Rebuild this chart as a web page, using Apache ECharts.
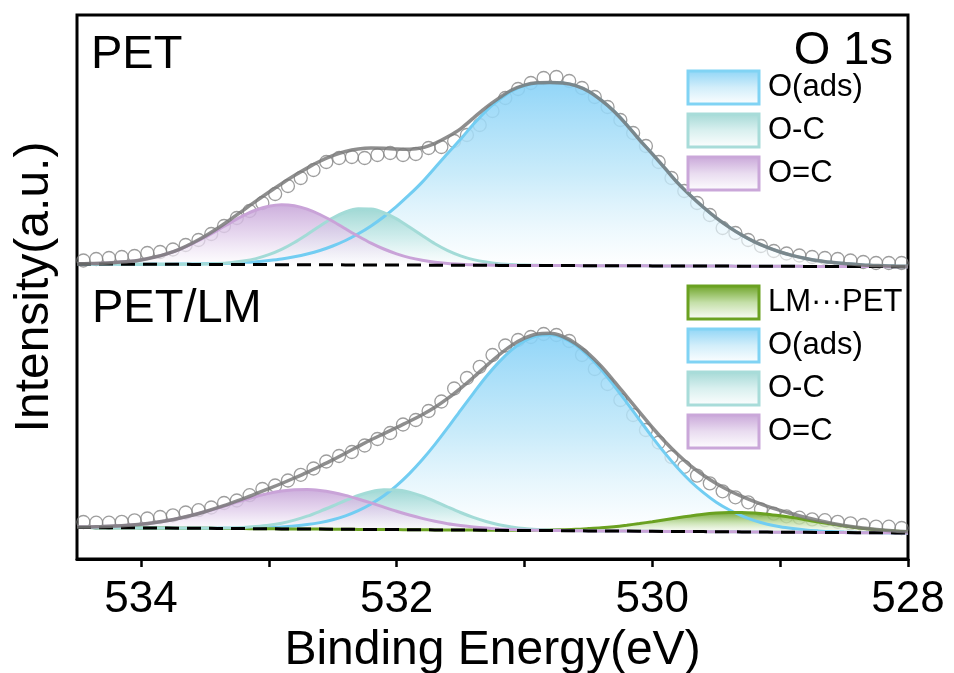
<!DOCTYPE html>
<html>
<head>
<meta charset="utf-8">
<title>O 1s XPS spectra – PET and PET/LM</title>
<script src="https://cdn.jsdelivr.net/npm/echarts@6/dist/echarts.min.js"></script>
<style>
  html, body { margin: 0; padding: 0; background: #ffffff; }
  #chart { width: 954px; height: 673px; }
</style>
</head>
<body>
<div id="chart"></div>
<script>
// ---- Binding-energy grids (eV) ----
const energyFit = [534.5, 534.4, 534.3, 534.2, 534.1, 534.0, 533.9, 533.8, 533.7, 533.6,
  533.5, 533.4, 533.3, 533.2, 533.1, 533.0, 532.9, 532.8, 532.7, 532.6,
  532.5, 532.4, 532.3, 532.2, 532.1, 532.0, 531.9, 531.8, 531.7, 531.6,
  531.5, 531.4, 531.3, 531.2, 531.1, 531.0, 530.9, 530.8, 530.7, 530.6,
  530.5, 530.4, 530.3, 530.2, 530.1, 530.0, 529.9, 529.8, 529.7, 529.6,
  529.5, 529.4, 529.3, 529.2, 529.1, 529.0, 528.9, 528.8, 528.7, 528.6,
  528.5, 528.4, 528.3, 528.2, 528.1, 528.0];

const energyMeasured = [534.45, 534.35, 534.25, 534.15, 534.05, 533.95, 533.85, 533.75, 533.65, 533.55,
  533.45, 533.35, 533.25, 533.15, 533.05, 532.95, 532.85, 532.75, 532.65, 532.55,
  532.45, 532.35, 532.25, 532.15, 532.05, 531.95, 531.85, 531.75, 531.65, 531.55,
  531.45, 531.35, 531.25, 531.15, 531.05, 530.95, 530.85, 530.75, 530.65, 530.55,
  530.45, 530.35, 530.25, 530.15, 530.05, 529.95, 529.85, 529.75, 529.65, 529.55,
  529.45, 529.35, 529.25, 529.15, 529.05, 528.95, 528.85, 528.75, 528.65, 528.55,
  528.45, 528.35, 528.25, 528.15, 528.05];

// ---- PET (upper, offset spectrum) ----
const petBackground = [297.0, 297.0, 296.9, 296.9, 296.8, 296.8, 296.8, 296.7, 296.7, 296.6,
  296.6, 296.5, 296.5, 296.5, 296.4, 296.4, 296.3, 296.3, 296.3, 296.2,
  296.2, 296.1, 296.1, 296.0, 296.0, 296.0, 295.9, 295.9, 295.8, 295.8,
  295.8, 295.7, 295.7, 295.6, 295.6, 295.5, 295.5, 295.5, 295.4, 295.4,
  295.3, 295.3, 295.3, 295.2, 295.2, 295.1, 295.1, 295.0, 295.0, 295.0,
  294.9, 294.9, 294.8, 294.8, 294.8, 294.7, 294.7, 294.6, 294.6, 294.6,
  294.5, 294.5, 294.4, 294.4, 294.3, 294.3];

// peak heights above the background
const petOads = [0, 0, 0, 0, 0, 0, 0.1, 0.1, 0.2, 0.4,
  0.6, 0.9, 1.3, 2.0, 2.9, 4.1, 5.7, 7.9, 10.7, 14.3,
  18.8, 24.4, 31.1, 39.1, 48.3, 58.7, 70.4, 83.0, 97.5, 112,
  126, 141, 154.5, 165.5, 174.5, 180, 182.5, 183, 182.5, 180,
  174.5, 165.5, 154.5, 141, 126, 112, 97.5, 82.9, 70.3, 58.7,
  48.2, 39.0, 31.1, 24.3, 18.8, 14.3, 10.7, 7.9, 5.7, 4.1,
  2.9, 2.0, 1.3, 0.9, 0.6, 0.4];

const petOC = [0, 0, 0, 0, 0, 0, 0, 0, 0, 0.2,
  0.4, 0.9, 1.8, 3.4, 6.0, 9.9, 15.3, 22.2, 30.3, 38.9,
  46.8, 52.9, 56.1, 55.9, 52.4, 46.1, 38.0, 29.5, 21.4, 14.6,
  9.4, 5.7, 3.2, 1.7, 0.9, 0.4, 0.2, 0, 0, 0,
  0, 0, 0, 0, 0, 0, 0, 0, 0, 0,
  0, 0, 0, 0, 0, 0, 0, 0, 0, 0,
  0, 0, 0, 0, 0, 0];

const petOdC = [0.2, 0.5, 0.9, 1.6, 2.6, 4.3, 6.8, 10.3, 14.8, 20.5,
  27.1, 34.4, 41.9, 48.8, 54.6, 58.4, 60.0, 59.0, 55.6, 50.3,
  43.5, 36.1, 28.7, 21.9, 16.0, 11.2, 7.5, 4.8, 3.0, 1.8,
  1.0, 0.5, 0.3, 0.1, 0, 0, 0, 0, 0, 0,
  0, 0, 0, 0, 0, 0, 0, 0, 0, 0,
  0, 0, 0, 0, 0, 0, 0, 0, 0, 0,
  0, 0, 0, 0, 0, 0];

const petFit = [0.2, 0.5, 0.9, 1.6, 2.6, 4.3, 6.9, 10.4, 15.0, 21.1,
  28.1, 36.2, 45.0, 54.2, 63.5, 72.4, 81.0, 89.1, 96.6, 103.5,
  109.1, 113.4, 115.9, 116.9, 116.7, 116.0, 115.9, 117.3, 121.9, 128.4,
  136.4, 147.2, 158.0, 167.3, 175.4, 180.4, 182.7, 183.0, 182.5, 180.0,
  174.5, 165.5, 154.5, 141.0, 126.0, 112.0, 97.5, 82.9, 70.3, 58.7,
  48.2, 39.0, 31.1, 24.3, 18.8, 14.3, 10.7, 7.9, 5.7, 4.1,
  2.9, 2.0, 1.3, 0.9, 0.6, 0.4];

const petMeasured = [300.5, 302, 303, 304, 305, 308, 309, 311.5, 316, 321,
  327, 335, 343, 350, 358, 367, 375, 383, 391, 399,
  403, 404, 403, 406, 408, 406, 407, 413, 414, 420,
  426, 436, 450, 463, 472, 478, 483, 484, 480, 473,
  464, 454, 441, 428, 415, 399, 383, 370, 358, 346,
  333, 328, 321, 315, 310, 307.5, 305.5, 304, 303, 302,
  300.5, 299, 298, 298, 298];

// ---- PET/LM (lower spectrum) ----
const lmBackground = [33.5, 33.4, 33.3, 33.2, 33.2, 33.1, 33.0, 32.9, 32.8, 32.7,
  32.7, 32.6, 32.5, 32.4, 32.3, 32.2, 32.1, 32.1, 32.0, 31.9,
  31.8, 31.7, 31.6, 31.6, 31.5, 31.4, 31.3, 31.2, 31.1, 31.0,
  31.0, 30.9, 30.8, 30.7, 30.6, 30.5, 30.5, 30.4, 30.3, 30.2,
  30.1, 30.0, 29.9, 29.9, 29.8, 29.7, 29.6, 29.5, 29.4, 29.4,
  29.3, 29.2, 29.1, 29.0, 28.9, 28.8, 28.8, 28.7, 28.6, 28.5,
  28.4, 28.3, 28.3, 28.2, 28.1, 28.0];

const lmLmPet = [0, 0, 0, 0, 0, 0, 0, 0, 0, 0,
  0, 0, 0, 0, 0, 0, 0, 0, 0, 0,
  0, 0, 0, 0, 0, 0, 0, 0, 0, 0,
  0, 0, 0, 0.1, 0.1, 0.2, 0.4, 0.6, 1.0, 1.5,
  2.3, 3.2, 4.4, 5.9, 7.7, 9.6, 11.7, 13.8, 15.7, 17.4,
  18.6, 19.3, 19.5, 19.0, 17.9, 16.4, 14.6, 12.5, 10.4, 8.4,
  6.6, 5.0, 3.7, 2.6, 1.8, 1.2];

const lmOads = [0, 0, 0, 0, 0, 0, 0, 0, 0, 0,
  0, 0.1, 0.2, 0.4, 0.7, 1.2, 1.9, 2.9, 4.4, 6.5,
  9.4, 13.4, 18.7, 25.4, 33.7, 44.0, 56.1, 70.0, 85.5, 102.3,
  119.7, 136.8, 153.4, 168.2, 180.5, 189.6, 194.8, 195.9, 192.8, 185.7,
  175.0, 161.5, 145.6, 128.6, 111.4, 94.2, 78.0, 63.2, 50.1, 38.9,
  29.5, 22.0, 16.0, 11.4, 7.9, 5.4, 3.6, 2.3, 1.5, 0.9,
  0.6, 0.4, 0.2, 0.1, 0, 0];

const lmOC = [0, 0, 0, 0, 0, 0, 0, 0, 0, 0,
  0.1, 0.3, 0.6, 1.1, 2.1, 3.5, 5.7, 8.8, 12.8, 17.8,
  23.2, 28.8, 33.9, 37.7, 39.7, 39.7, 37.6, 33.7, 28.6, 23.0,
  17.5, 12.7, 8.7, 5.6, 3.5, 2.0, 1.1, 0.6, 0.3, 0.1,
  0, 0, 0, 0, 0, 0, 0, 0, 0, 0,
  0, 0, 0, 0, 0, 0, 0, 0, 0, 0,
  0, 0, 0, 0, 0, 0];

const lmOdC = [0.4, 0.7, 1.1, 1.7, 2.5, 3.7, 5.3, 7.4, 9.9, 13.0,
  16.5, 20.3, 24.4, 28.4, 32.2, 35.4, 37.8, 39.2, 39.5, 38.6,
  36.7, 33.9, 30.4, 26.5, 22.4, 18.4, 14.7, 11.4, 8.6, 6.3,
  4.5, 3.1, 2.1, 1.4, 0.9, 0.5, 0.3, 0.2, 0.1, 0,
  0, 0, 0, 0, 0, 0, 0, 0, 0, 0,
  0, 0, 0, 0, 0, 0, 0, 0, 0, 0,
  0, 0, 0, 0, 0, 0];

const lmFit = [0.4, 0.7, 1.1, 1.7, 2.5, 3.7, 5.3, 7.4, 9.9, 13.0,
  16.6, 20.7, 25.2, 29.9, 35.0, 40.1, 45.4, 50.9, 56.7, 62.9,
  69.3, 76.1, 83.0, 89.6, 95.8, 102.1, 108.4, 115.1, 122.7, 131.6,
  141.7, 152.6, 164.2, 175.3, 185.0, 192.3, 196.6, 197.3, 194.2, 187.3,
  177.3, 164.7, 150.0, 134.5, 119.1, 103.8, 89.7, 77.0, 65.8, 56.3,
  48.1, 41.3, 35.5, 30.4, 25.8, 21.8, 18.2, 14.8, 11.9, 9.3,
  7.2, 5.4, 3.9, 2.7, 1.8, 1.2];

const lmMeasured = [39, 38.3, 38.3, 39.1, 40.7, 42.5, 44, 45.7, 48.5, 50.8,
  53.5, 58, 60.5, 65.8, 72, 75.5, 80.5, 86.2, 92.5, 99.5,
  105, 109, 115.5, 122, 128, 136.5, 141, 150, 159.5, 172.5,
  183, 194.2, 206, 215.5, 221, 224, 227, 226, 220, 206,
  192, 177, 161, 146, 131, 118.5, 104, 94.2, 85.4, 77.6,
  69.7, 63.7, 58.7, 51.5, 47.3, 44.7, 43.3, 41.6, 40.8, 39.2,
  37.6, 36, 34.4, 34.3, 33];

// ---- Axis ticks and legend entries ----
const tickValues = [528, 529, 530, 531, 532, 533, 534];
const labelValues = [528, 530, 532, 534];
const legendPET = ['O(ads)', 'O-C', 'O=C'];
const legendLM = ['LM\u00B7\u00B7\u00B7PET', 'O(ads)', 'O-C', 'O=C'];

// ---- Styling ----
const FONT = "'Liberation Sans', Arial, Helvetica, sans-serif";
const PEAK_STYLE = {
  'O(ads)': { line: '#72cdf2', border: '#80d3f4',
    fill: ['rgba(134,209,247,0.9)', 'rgba(190,231,249,0.82)', 'rgba(255,255,255,0.6)'],
    icon: ['#8dd4f6', '#d2eefa', '#ffffff'] },
  'O-C': { line: '#a3dbd7', border: '#a8dcd9',
    fill: ['rgba(150,212,208,0.9)', 'rgba(200,234,232,0.8)', 'rgba(255,255,255,0.6)'],
    icon: ['#a2d8d5', '#d9f0ef', '#ffffff'] },
  'O=C': { line: '#c9a3d8', border: '#caa7d9',
    fill: ['rgba(198,164,216,0.88)', 'rgba(226,208,236,0.8)', 'rgba(255,255,255,0.6)'],
    icon: ['#c8a5d8', '#e9dcf0', '#ffffff'] },
  'LM\u00B7\u00B7\u00B7PET': { line: '#6aa121', border: '#6aa121',
    fill: ['rgba(108,162,42,0.92)', 'rgba(190,220,160,0.8)', 'rgba(255,255,255,0.6)'],
    icon: ['#6aa121', '#c4dfa8', '#ffffff'] }
};

function pairs(xs, ys) { return xs.map(function (x, i) { return [x, ys[i]]; }); }
// intensity first, energy second: the stacked dimension is then the intensity (y)
function stackPairs(ys) { return energyFit.map(function (x, i) { return [ys[i], x]; }); }
function fade(stops) {
  return new echarts.graphic.LinearGradient(0, 0, 0, 1, stops.map(function (c, i) {
    return { offset: i / (stops.length - 1), color: c };
  }));
}

function carrier(stackId, background) {
  return { type: 'line', stack: stackId, stackStrategy: 'all', data: stackPairs(background),
    encode: { x: 1, y: 0 }, symbol: 'none', silent: true, lineStyle: { width: 0, opacity: 0 } };
}

// background carrier + peak stacked on it, so the fill spans from the background up to the peak
function peakSeries(name, stackId, background, heights) {
  const s = PEAK_STYLE[name];
  return [
    carrier(stackId, background),
    { type: 'line', name: name, stack: stackId, stackStrategy: 'all', data: stackPairs(heights),
      encode: { x: 1, y: 0 }, symbol: 'none', smooth: 0.3, silent: true,
      lineStyle: { color: s.line, width: 3 }, itemStyle: { color: s.line },
      areaStyle: { color: fade(s.fill), opacity: 1 } }
  ];
}

function fitSeries(stackId, background, heights) {
  return [
    carrier(stackId, background),
    { type: 'line', name: 'Fit', stack: stackId, stackStrategy: 'all', data: stackPairs(heights),
      encode: { x: 1, y: 0 }, symbol: 'none', smooth: 0.3, silent: true,
      lineStyle: { color: 'rgba(122,122,122,0.85)', width: 3.5 } }
  ];
}

function backgroundSeries(background) {
  return { type: 'line', name: 'Background', data: pairs(energyFit, background), symbol: 'none', silent: true,
    lineStyle: { color: '#000000', width: 3, type: [14, 8] } };
}

function measuredSeries(energies, values) {
  return { type: 'scatter', name: 'Measured', data: pairs(energies, values), symbol: 'circle',
    symbolSize: 13, silent: true, clip: false,
    itemStyle: { color: 'rgba(255,255,255,0)', borderColor: '#858585', borderWidth: 1.3 } };
}

function legendBlock(names, top) {
  return {
    orient: 'vertical', left: 686.5, top: top, padding: 0,
    itemWidth: 71, itemHeight: 33, itemGap: 7, icon: 'rect', selectedMode: false,
    textStyle: { fontSize: 31, fontFamily: FONT, color: '#000000', padding: [0, 0, 0, 4] },
    data: names.map(function (n) {
      const s = PEAK_STYLE[n];
      return { name: n, icon: 'rect',
        itemStyle: { color: fade(s.icon), borderColor: s.border, borderWidth: 3 } };
    })
  };
}

const series = [].concat(
  measuredSeries(energyMeasured, petMeasured),
  measuredSeries(energyMeasured, lmMeasured),
  peakSeries('O(ads)', 'pet-oads', petBackground, petOads),
  peakSeries('O-C', 'pet-oc', petBackground, petOC),
  peakSeries('O=C', 'pet-odc', petBackground, petOdC),
  peakSeries('O(ads)', 'lm-oads', lmBackground, lmOads),
  peakSeries('LM\u00B7\u00B7\u00B7PET', 'lm-lmpet', lmBackground, lmLmPet),
  peakSeries('O-C', 'lm-oc', lmBackground, lmOC),
  peakSeries('O=C', 'lm-odc', lmBackground, lmOdC),
  backgroundSeries(petBackground),
  backgroundSeries(lmBackground),
  fitSeries('pet-fit', petBackground, petFit),
  fitSeries('lm-fit', lmBackground, lmFit)
);

const chart = echarts.init(document.getElementById('chart'), null, { renderer: 'canvas' });
chart.setOption({
  animation: false,
  backgroundColor: '#ffffff',
  textStyle: { fontFamily: FONT },
  grid: { left: 77, right: 46, top: 15, bottom: 114, show: true, borderColor: '#000000', borderWidth: 3,
    backgroundColor: 'rgba(0,0,0,0)', outerBoundsMode: 'none' },
  xAxis: {
    type: 'value', min: 528, max: 534.5, inverse: true,
    axisLine: { show: true, lineStyle: { color: '#000000', width: 3 } },
    axisTick: { show: true, inside: false, length: 8, customValues: tickValues,
      lineStyle: { color: '#000000', width: 2.5 } },
    axisLabel: { customValues: labelValues, margin: 19, fontSize: 44, color: '#000000', fontFamily: FONT },
    splitLine: { show: false },
    name: 'Binding Energy(eV)', nameLocation: 'middle', nameGap: 58,
    nameTextStyle: { fontSize: 48, color: '#000000', fontFamily: FONT }
  },
  yAxis: {
    type: 'value', min: 2, max: 546,
    axisLine: { show: false }, axisTick: { show: false }, axisLabel: { show: false },
    splitLine: { show: false },
    name: 'Intensity(a.u.)', nameLocation: 'middle', nameGap: 18,
    nameTextStyle: { fontSize: 48, color: '#000000', fontFamily: FONT }
  },
  legend: [legendBlock(legendPET, 69.5), legendBlock(legendLM, 284.5)],
  graphic: [
    { type: 'text', x: 91, y: 55, silent: true,
      style: { text: 'PET', fontSize: 47, fontFamily: FONT, fill: '#000000', align: 'left', verticalAlign: 'middle' } },
    { type: 'text', x: 92, y: 309, silent: true,
      style: { text: 'PET/LM', fontSize: 47, fontFamily: FONT, fill: '#000000', align: 'left', verticalAlign: 'middle' } },
    { type: 'text', x: 893, y: 51, silent: true,
      style: { text: 'O 1s', fontSize: 47, fontFamily: FONT, fill: '#000000', align: 'right', verticalAlign: 'middle' } }
  ],
  series: series
});
</script>
</body>
</html>
